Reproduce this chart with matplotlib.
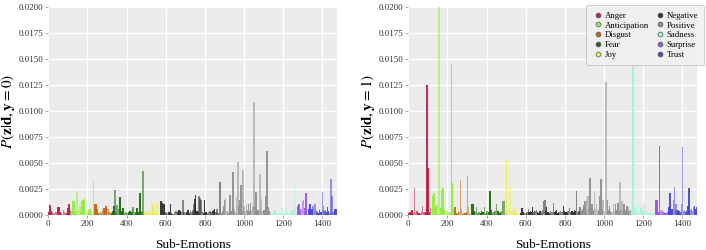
import numpy as np
import matplotlib
matplotlib.use('Agg')
import matplotlib.pyplot as plt
from matplotlib.lines import Line2D

plt.rcParams['font.family'] = 'Liberation Serif'
plt.rcParams['mathtext.fontset'] = 'stix'

emotions = ['Anger', 'Anticipation', 'Disgust', 'Fear', 'Joy',
            'Negative', 'Positive', 'Sadness', 'Surprise', 'Trust']
cat_start = [0, 120, 236, 320, 490, 570, 882, 1140, 1264, 1327]
colors = ['#c02048', '#8ef03a', '#c06a14', '#1e6a0e', '#eef040',
          '#303030', '#909090', '#9ff5dc', '#9a55f0', '#4a4ad0']

# P(z|d, y=0)
pos_y0 = [4, 8, 14, 22, 30, 40, 46, 52, 56, 62, 68, 77, 82, 87, 95, 102, 107, 114,
          122, 126, 130, 136, 142, 148, 154, 161, 166, 170, 174, 178, 184, 190, 196, 203, 209, 212, 220, 230, 234,
          238, 243, 250, 256, 263, 270, 277, 284, 290, 294, 298, 304, 310, 315,
          325, 330, 335, 342, 347, 352, 359, 366, 372, 378, 383, 390, 398, 405, 411, 417, 424, 430, 434, 442, 448,
          454, 461, 468, 474, 479, 485,
          492, 497, 503, 510, 516, 521, 527, 536, 542, 548, 553, 560,
          576, 583, 590, 596, 602, 610, 617, 624, 630, 637, 645, 650, 655, 662, 667, 672, 680, 687, 694, 700, 707,
          714, 720, 727, 733, 740, 745, 748, 753, 760, 765, 769, 774, 781, 787, 793, 799, 806, 812, 818, 825, 831,
          838, 844, 850, 856, 862, 868, 876,
          884, 890, 895, 901, 906, 912, 918, 922, 927, 933, 938, 944, 950, 955, 961, 968, 972, 978, 985, 990, 995,
          1000, 1006, 1012, 1017, 1022, 1027, 1032, 1038, 1046, 1051, 1056, 1060, 1066, 1072, 1080, 1085, 1090,
          1096, 1102, 1106, 1111, 1116, 1121, 1127, 1133,
          1145, 1152, 1158, 1165, 1172, 1180, 1188, 1196, 1203, 1210, 1216, 1222, 1230, 1238, 1244, 1250, 1257, 1262,
          1272, 1277, 1281, 1286, 1292, 1298, 1304, 1309, 1315, 1320,
          1333, 1338, 1343, 1348, 1352, 1359, 1366, 1371, 1376, 1381, 1386, 1392, 1400, 1405, 1409, 1413, 1420,
          1427, 1432, 1438, 1444, 1449, 1455, 1461, 1466, 1471]
val_y0 = [0.0003, 0.00096, 0.0004, 0.0003, 0.0002, 0.0003, 0.00074, 0.0006, 0.00074, 0.0003, 0.0002, 0.0005,
          0.0003, 0.00015, 0.0002, 0.00064, 0.0011, 0.0005,
          0.0004, 0.0013, 0.0013, 0.0004, 0.0003, 0.0023, 0.0005, 0.00087, 0.0003, 0.0013, 0.0006, 0.0014, 0.0016,
          0.0003, 0.0002, 0.0004, 0.0005, 0.00055, 0.0003, 0.0033, 0.0004,
          0.00106, 0.00106, 0.0006, 0.0002, 0.00015, 0.0003, 0.0005, 0.00064, 0.0007, 0.00087, 0.00087, 0.00055,
          0.0003, 0.0003,
          0.0002, 0.0004, 0.00087, 0.0024, 0.0003, 0.00093, 0.0006, 0.0017, 0.0004, 0.0003, 0.00067, 0.0002, 0.0003,
          0.0002, 0.0003, 0.0004, 0.0003, 0.0006, 0.0008, 0.0003, 0.0002, 0.00064, 0.0003, 0.0021, 0.0004, 0.0003,
          0.0042,
          0.0003, 0.0004, 0.0002, 0.0003, 0.0002, 0.0004, 0.00145, 0.00106, 0.0002, 0.0003, 0.0012, 0.0002,
          0.0013, 0.0012, 0.0011, 0.0002, 0.0003, 0.0002, 0.0003, 0.0011, 0.0002, 0.0001, 0.0003, 0.0004, 0.00035,
          0.0003, 0.0005, 0.0004, 0.0003, 0.00145, 0.0003, 0.0002, 0.0003, 0.0005, 0.0002, 0.0004, 0.0003, 0.0005,
          0.00106, 0.0015, 0.0019, 0.0004, 0.0003, 0.0018, 0.0016, 0.00145, 0.0003, 0.0002, 0.00145, 0.0003, 0.0002,
          0.0003, 0.0004, 0.0003, 0.0004, 0.0005, 0.00055, 0.0003, 0.0006, 0.0002, 0.0032,
          0.0002, 0.0004, 0.0009, 0.00145, 0.0016, 0.0004, 0.0003, 0.0002, 0.0019, 0.0004, 0.0003, 0.0041, 0.0006,
          0.0003, 0.0017, 0.0051, 0.0009, 0.00145, 0.0029, 0.0004, 0.0043, 0.0009, 0.0004, 0.00106, 0.0005, 0.0011,
          0.0004, 0.0012, 0.0005, 0.00087, 0.0109, 0.0009, 0.0022, 0.0005, 0.0005, 0.0039, 0.0006, 0.0015, 0.0004,
          0.0005, 0.0004, 0.0018, 0.0062, 0.0008, 0.0005, 0.0003,
          0.0001, 0.0003, 0.0005, 0.0002, 0.0001, 0.0003, 0.0002, 0.00064, 0.0001, 0.0003, 0.00055, 0.0003, 0.0001,
          0.0002, 0.0004, 0.0005, 0.0029, 0.0009,
          0.0008, 0.0009, 0.00106, 0.0004, 0.0006, 0.0013, 0.00145, 0.0007, 0.0021, 0.0004,
          0.0006, 0.0011, 0.0005, 0.0006, 0.00087, 0.00106, 0.0011, 0.0004, 0.0003, 0.0002, 0.0005, 0.0003, 0.0022,
          0.0009, 0.0004, 0.0005, 0.0003, 0.0008, 0.0004, 0.0002, 0.0035, 0.0018, 0.0003, 0.0006, 0.0004, 0.0006]

# P(z|d, y=1)
pos_y1 = [5, 10, 19, 25, 31, 37, 43, 48, 55, 62, 68, 73, 79, 85, 90, 97, 102, 108, 114,
          124, 131, 136, 141, 145, 150, 155, 160, 165, 169, 173, 177, 182, 188, 195, 201, 207, 213, 220, 223, 228, 233,
          238, 244, 250, 256, 261, 267, 272, 278, 285, 291, 297, 302, 307, 313,
          323, 328, 332, 337, 343, 349, 356, 362, 369, 375, 382, 390, 396, 403, 410, 417, 423, 430, 437, 444, 451,
          457, 463, 470, 476, 482, 489,
          496, 502, 507, 513, 518, 523, 528, 533, 540, 546, 553, 560,
          576, 582, 588, 594, 600, 606, 613, 618, 624, 630, 635, 641, 648, 655, 661, 668, 674, 680, 686, 690, 698,
          703, 707, 713, 720, 727, 734, 741, 747, 752, 758, 764, 770, 778, 785, 792, 798, 805, 811, 817, 823, 829,
          836, 842, 848, 854, 860, 866, 871, 877,
          886, 890, 894, 899, 903, 907, 911, 917, 922, 928, 933, 939, 945, 951, 956, 962, 967, 972, 976, 981, 985,
          991, 996, 1003, 1010, 1017, 1022, 1027, 1033, 1040, 1048, 1053, 1058, 1064, 1071, 1076, 1082, 1087, 1092,
          1097, 1102, 1108, 1116, 1121, 1126, 1132, 1137,
          1142, 1147, 1153, 1158, 1164, 1170, 1177, 1183, 1189, 1195, 1201, 1206, 1211, 1217, 1223, 1230, 1238, 1245,
          1252, 1258,
          1266, 1271, 1277, 1283, 1289, 1295, 1300, 1306, 1312, 1318, 1324,
          1329, 1333, 1337, 1342, 1348, 1354, 1361, 1365, 1368, 1373, 1379, 1384, 1390, 1395, 1400, 1405, 1410,
          1416, 1422, 1429, 1434, 1440, 1446, 1452, 1456, 1463, 1468, 1473]
val_y1 = [0.0002, 0.0003, 0.0005, 0.0002, 0.0026, 0.0002, 0.0004, 0.0004, 0.0002, 0.0001, 0.0003, 0.00087,
          0.0003, 0.0002, 0.0003, 0.0125, 0.0045, 0.0003, 0.00064,
          0.0018, 0.0021, 0.0005, 0.0009, 0.00096, 0.0012, 0.0200, 0.0200, 0.0007, 0.0024, 0.0006, 0.0026, 0.0005,
          0.0002, 0.0004, 0.0005, 0.0003, 0.0002, 0.0145, 0.0031, 0.0006, 0.0002,
          0.0008, 0.0002, 0.0001, 0.0003, 0.0003, 0.0034, 0.0006, 0.0002, 0.0001, 0.0002, 0.0003, 0.0038, 0.0008,
          0.0002,
          0.00106, 0.0003, 0.0011, 0.0004, 0.0003, 0.0008, 0.0002, 0.0003, 0.0002, 0.0004, 0.0003, 0.0008, 0.0002,
          0.0004, 0.0003, 0.0023, 0.0005, 0.0002, 0.0003, 0.0004, 0.00106, 0.0004, 0.0002, 0.0003, 0.0004, 0.0013,
          0.0013,
          0.0004, 0.0053, 0.0007, 0.0006, 0.0028, 0.0028, 0.0004, 0.0003, 0.0006, 0.0003, 0.0002, 0.0001,
          0.0002, 0.00064, 0.0003, 0.0002, 0.0002, 0.0003, 0.00055, 0.0003, 0.0004, 0.0003, 0.0008, 0.0003, 0.0004,
          0.0005, 0.0003, 0.0002, 0.0004, 0.0003, 0.0005, 0.0013, 0.00145, 0.0004, 0.0008, 0.0003, 0.0002, 0.0004,
          0.0003, 0.0012, 0.0003, 0.0004, 0.0005, 0.0002, 0.0003, 0.0004, 0.0003, 0.00087, 0.0004, 0.0003, 0.0002,
          0.0004, 0.00064, 0.0003, 0.0004, 0.0003, 0.0005, 0.0004, 0.0023, 0.0003, 0.0004, 0.0008,
          0.0004, 0.0006, 0.00096, 0.0005, 0.0013, 0.0004, 0.0015, 0.0018, 0.0006, 0.0036, 0.0008, 0.0011, 0.0005,
          0.0023, 0.0006, 0.00106, 0.0004, 0.0005, 0.0018, 0.0006, 0.0035, 0.0005, 0.0014, 0.0004, 0.0128, 0.00145,
          0.0005, 0.00087, 0.0004, 0.0003, 0.0011, 0.0004, 0.0011, 0.0005, 0.0012, 0.0004, 0.0032, 0.0005, 0.0013,
          0.0004, 0.00106, 0.0005, 0.00087, 0.0004, 0.0008, 0.0005, 0.0003,
          0.0005, 0.0143, 0.00064, 0.0003, 0.0008, 0.0003, 0.0012, 0.0003, 0.0007, 0.0004, 0.0011, 0.0005, 0.0011,
          0.0003, 0.0004, 0.0002, 0.0002, 0.0001, 0.0002, 0.0001,
          0.00145, 0.00145, 0.0003, 0.0066, 0.0004, 0.0005, 0.0003, 0.0003, 0.0002, 0.0002, 0.0003,
          0.00064, 0.0008, 0.0021, 0.0005, 0.0006, 0.00145, 0.0027, 0.0006, 0.00106, 0.0004, 0.0005, 0.0004, 0.0003,
          0.0011, 0.0065, 0.0004, 0.0005, 0.0003, 0.0004, 0.00087, 0.0026, 0.0005, 0.0006, 0.0004, 0.0008, 0.00087,
          0.0006, 0.0008]


def bar_style(p):
    k = np.searchsorted(cat_start, p, side='right') - 1
    # alternate shade inside each emotion block
    a = 0.95 if ((p - cat_start[k]) // 22) % 2 == 0 else 0.55
    return colors[k], a


fig = plt.figure(figsize=(7.06, 2.5), dpi=100)
ax0 = fig.add_axes([0.0684, 0.14, 0.409, 0.831])
ax1 = fig.add_axes([0.5783, 0.14, 0.409, 0.831])

for ax, pos, val, lab in [(ax0, pos_y0, val_y0, r'$P(\mathbf{z}|\mathbf{d},\mathbf{y}=0)$'),
                          (ax1, pos_y1, val_y1, r'$P(\mathbf{z}|\mathbf{d},\mathbf{y}=1)$')]:
    ax.set_facecolor('#ebebeb')
    for p, v in zip(pos, val):
        c, a = bar_style(p)
        ax.bar(p, v, width=8, color=c, alpha=a, linewidth=0, antialiased=False, zorder=2)
    ax.set_xlim(0, 1475)
    ax.set_ylim(0, 0.02)
    ax.set_yticks(np.arange(0, 0.02001, 0.0025))
    ax.set_yticklabels(['%.4f' % t for t in np.arange(0, 0.02001, 0.0025)])
    ax.set_xticks([0, 200, 400, 600, 800, 1000, 1200, 1400])
    ax.grid(color='white', linewidth=1.0, zorder=0)
    ax.set_axisbelow(True)
    for s in ax.spines.values():
        s.set_visible(False)
    ax.tick_params(labelsize=6.5, colors='#333333', length=2, width=0.5, pad=1.5)
    ax.tick_params(axis='both', color='#888888')
    ax.set_ylabel(lab, fontsize=11, labelpad=1)
    ax.set_xlabel('Sub-Emotions', fontsize=9.5, labelpad=8)

handles = [Line2D([], [], marker='o', linestyle='none', markersize=3.5,
                  markerfacecolor=c, markeredgecolor='#555555', markeredgewidth=0.5,
                  label=e) for e, c in zip(emotions, colors)]
leg = ax1.legend(handles=handles, ncol=2, fontsize=6.3, loc='upper right',
                 bbox_to_anchor=(1.04, 1.03), frameon=True, handletextpad=0.2,
                 handlelength=1.2, columnspacing=0.6, labelspacing=0.2, borderpad=0.7)
leg.get_frame().set_facecolor('#f0f0f0')
leg.get_frame().set_edgecolor('#bbbbbb')
leg.get_frame().set_alpha(0.85)
leg.get_frame().set_linewidth(0.6)

fig.savefig('out.png', dpi=100)
